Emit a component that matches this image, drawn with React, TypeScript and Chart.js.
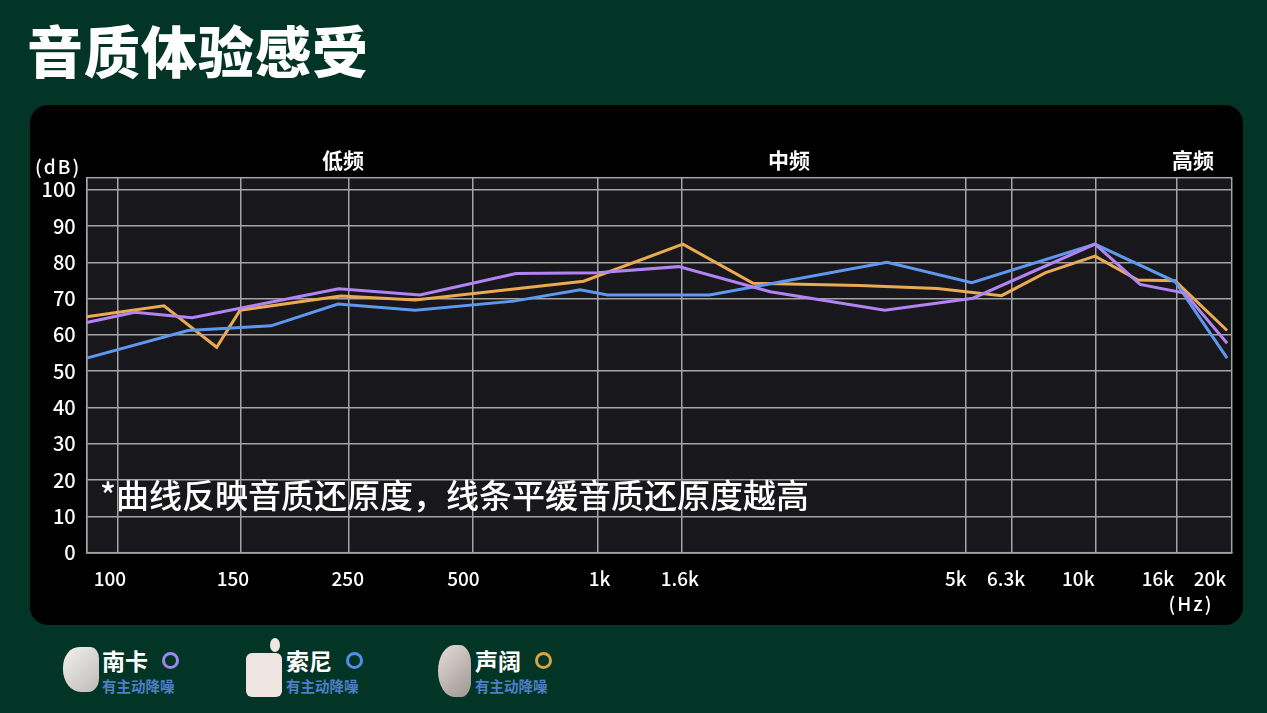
import { useEffect, useRef } from "react"
import { Chart, type ChartConfiguration, registerables } from "chart.js"

Chart.register(...registerables)

// x 轴是示意刻度（不是对数），用 0~100 的相对位置表示
const gridPos = [2.67, 13.45, 22.9, 33.7, 44.65, 51.97, 76.75, 80.8, 88.1, 95.2]
const labelPos = [2.03, 12.77, 22.8, 32.9, 44.8, 51.8, 75.9, 80.3, 86.6, 93.56, 98.1]
const xLabels = ["100", "150", "250", "500", "1k", "1.6k", "5k", "6.3k", "10k", "16k", "20k"]
const yTicks = [0, 10, 20, 30, 40, 50, 60, 70, 80, 90, 100]

// 南卡
const nankaPos = [0, 4.2, 9.2, 22.0, 29.1, 37.5, 44.6, 51.7, 59.7, 69.7, 77.4, 88.06, 92.0, 95.9, 99.6]
const nankaDb = [63.4, 66.2, 64.7, 72.7, 71.0, 76.9, 77.1, 78.8, 71.9, 66.8, 70.1, 85.0, 73.9, 71.5, 57.7]

// 索尼
const sonyPos = [0, 8.85, 16.1, 21.95, 28.7, 37.3, 43.1, 45.5, 54.4, 69.9, 77.3, 88.06, 95.05, 99.6]
const sonyDb = [53.6, 61.2, 62.5, 68.5, 66.8, 69.3, 72.4, 71.0, 71.0, 80.0, 74.4, 85.0, 74.7, 53.6]

// 声阔
const soundcorePos = [0, 6.75, 11.35, 13.4, 22.2, 28.7, 43.4, 52.07, 58.2, 67.5, 74.3, 79.9, 83.7, 88.06, 91.8, 95.05, 99.6]
const soundcoreDb = [65.0, 68.0, 56.6, 66.8, 70.7, 69.6, 74.8, 85.0, 74.2, 73.6, 72.8, 70.8, 77.1, 81.7, 75.1, 74.9, 61.2]

const FONT = '"Noto Sans CJK SC", "Noto Sans", sans-serif'
const GRID = "#a4a4a4"

const zip = (xs: number[], ys: number[]) => xs.map((x, i) => ({ x, y: ys[i] }))

const plotFrame = {
  id: "plotFrame",
  beforeDraw(chart: Chart) {
    const { ctx, chartArea } = chart
    ctx.save()
    ctx.fillStyle = "#18171b"
    ctx.fillRect(chartArea.left, chartArea.top, chartArea.width, chartArea.height)
    ctx.restore()
  },
  beforeDatasetsDraw(chart: Chart) {
    const { ctx, chartArea } = chart
    ctx.save()
    ctx.strokeStyle = GRID
    ctx.lineWidth = 1.5
    ctx.strokeRect(chartArea.left, chartArea.top, chartArea.width, chartArea.height)
    ctx.restore()
  },
}

function FreqChart() {
  const chartRef = useRef<HTMLCanvasElement>(null)
  const chartInstance = useRef<Chart | null>(null)

  useEffect(() => {
    if (!chartRef.current) return
    const ctx = chartRef.current.getContext("2d")
    if (!ctx) return

    if (chartInstance.current) {
      chartInstance.current.destroy()
    }

    const config: ChartConfiguration = {
      type: "line",
      data: {
        datasets: [
          { label: "南卡", data: zip(nankaPos, nankaDb), borderColor: "#b184f2" },
          { label: "索尼", data: zip(sonyPos, sonyDb), borderColor: "#5e98ee" },
          { label: "声阔", data: zip(soundcorePos, soundcoreDb), borderColor: "#eaaa52" },
        ].map((d) => ({ ...d, borderWidth: 3, pointRadius: 0, tension: 0, fill: false, xAxisID: "x" })),
      },
      options: {
        responsive: true,
        maintainAspectRatio: false,
        animation: false,
        layout: { padding: { top: 72.7, right: 11.3, bottom: 0, left: 0 } },
        plugins: {
          legend: { display: false },
          tooltip: { enabled: false },
        },
        scales: {
          x: {
            type: "linear",
            position: "bottom",
            weight: 0,
            min: 0,
            max: 100,
            grid: { color: GRID, lineWidth: 1.5, drawTicks: false },
            border: { display: true, color: GRID, width: 1.5 },
            ticks: { display: false },
            afterBuildTicks: (scale: any) => {
              scale.ticks = gridPos.map((v) => ({ value: v }))
            },
            afterFit: (scale: any) => {
              scale.height = 0
            },
          },
          xl: {
            type: "linear",
            position: "bottom",
            weight: 1,
            min: 0,
            max: 100,
            grid: { display: false },
            border: { display: false },
            ticks: {
              color: "#ffffff",
              font: { family: FONT, size: 19, weight: 500 },
              padding: 7,
              autoSkip: false,
              maxRotation: 0,
              callback: (_v: any, i: number) => xLabels[i],
            },
            afterBuildTicks: (scale: any) => {
              scale.ticks = labelPos.map((v) => ({ value: v }))
            },
            afterFit: (scale: any) => {
              scale.height = 72.3
            },
          },
          y: {
            type: "linear",
            min: 0,
            max: 103.3,
            grid: { color: GRID, lineWidth: 1.5, drawTicks: false },
            border: { display: true, color: GRID, width: 1.5 },
            ticks: {
              color: "#ffffff",
              font: { family: FONT, size: 20, weight: 500 },
              padding: 11,
            },
            afterBuildTicks: (scale: any) => {
              scale.ticks = yTicks.map((v) => ({ value: v }))
            },
            afterFit: (scale: any) => {
              scale.width = 56.7
            },
          },
        },
      } as any,
      plugins: [plotFrame],
    }

    chartInstance.current = new Chart(ctx, config)

    return () => {
      if (chartInstance.current) {
        chartInstance.current.destroy()
        chartInstance.current = null
      }
    }
  }, [])

  return <canvas ref={chartRef} />
}

const abs = (left: number, top: number, extra: React.CSSProperties = {}): React.CSSProperties => ({
  position: "absolute",
  left,
  top,
  ...extra,
})

function Centered({ x, y, size, weight = 700, children, color = "#fff" }: any) {
  return (
    <div
      style={abs(x, y, {
        transform: "translate(-50%, -50%)",
        fontSize: size,
        fontWeight: weight,
        color,
        whiteSpace: "nowrap",
        lineHeight: 1,
      })}
    >
      {children}
    </div>
  )
}

function LegendItem({ x, name, ring }: { x: number; name: string; ring: string }) {
  return (
    <>
      <div style={abs(x, 648, { fontSize: 23, fontWeight: 700, color: "#fff", lineHeight: "24px", whiteSpace: "nowrap" })}>
        {name}
      </div>
      <div
        style={abs(x + 60, 652, {
          width: 11,
          height: 11,
          borderRadius: "50%",
          border: `3px solid ${ring}`,
        })}
      />
      <div style={abs(x, 677, { fontSize: 14.5, fontWeight: 700, color: "#4e7fc9", lineHeight: "18px", whiteSpace: "nowrap" })}>
        有主动降噪
      </div>
    </>
  )
}

export default function App() {
  return (
    <div
      style={{
        position: "fixed",
        left: 0,
        top: 0,
        width: 1267,
        height: 713,
        background: "#023526",
        overflow: "hidden",
        fontFamily: FONT,
      }}
    >
      <div style={abs(27, 17, { fontSize: 56, fontWeight: 900, color: "#fff", lineHeight: "64px", letterSpacing: 1 })}>
        音质体验感受
      </div>

      <div style={abs(30, 105, { width: 1213, height: 520, background: "#000", borderRadius: 18 })}>
        <div style={{ position: "relative", width: 1213, height: 520 }}>
          <FreqChart />
        </div>
      </div>

      <div style={abs(35, 154, { fontSize: 19, fontWeight: 500, color: "#fff", lineHeight: "24px", letterSpacing: 2 })}>
        (dB)
      </div>
      <Centered x={343} y={159} size={21}>低频</Centered>
      <Centered x={789} y={159} size={21}>中频</Centered>
      <Centered x={1193} y={159} size={21}>高频</Centered>
      <Centered x={1191} y={602} size={19} weight={500}>
        <span style={{ letterSpacing: 2 }}>(Hz)</span>
      </Centered>
      <div style={abs(100, 475, { fontSize: 33, fontWeight: 500, color: "#fff", lineHeight: "38px", whiteSpace: "nowrap" })}>
        *曲线反映音质还原度，线条平缓音质还原度越高
      </div>

      {/* 耳机图片占位 */}
      <div
        style={abs(63, 647, {
          width: 36,
          height: 45,
          borderRadius: "45% 25% 30% 50%",
          background: "linear-gradient(135deg, #f4f2f0, #bdbab8)",
        })}
      />
      <div style={abs(246, 653, { width: 36, height: 44, borderRadius: 6, background: "#efe5e0" })} />
      <div style={abs(270, 638, { width: 10, height: 14, borderRadius: "50%", background: "#efe8e0" })} />
      <div
        style={abs(438, 645, {
          width: 33,
          height: 52,
          borderRadius: "50% 35% 30% 50%",
          background: "linear-gradient(135deg, #e6dcd8, #9e9692)",
        })}
      />

      <LegendItem x={102} name="南卡" ring="#9b88f0" />
      <LegendItem x={286} name="索尼" ring="#4e8fe8" />
      <LegendItem x={475} name="声阔" ring="#d9a442" />
    </div>
  )
}
